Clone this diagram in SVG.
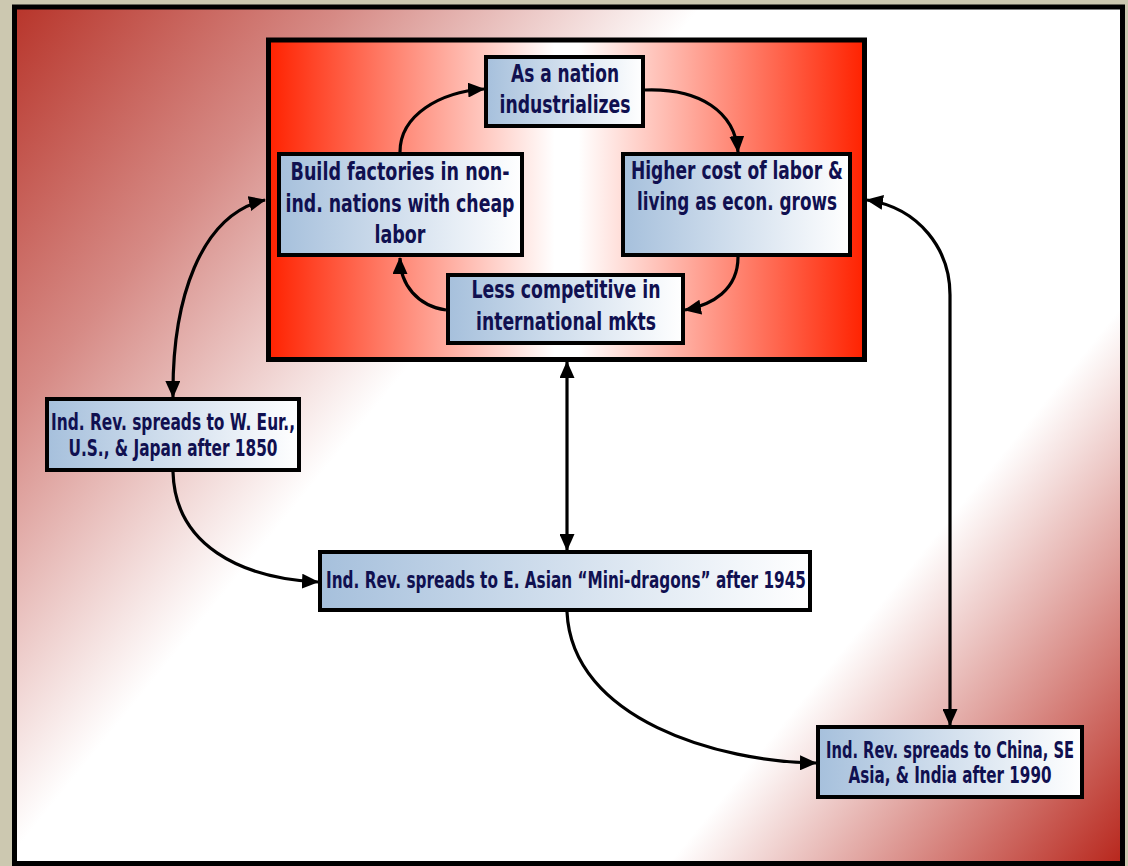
<svg xmlns="http://www.w3.org/2000/svg" width="1128" height="866" viewBox="0 0 1128 866">
  <defs>
    <linearGradient id="bgGrad" gradientUnits="userSpaceOnUse" x1="17" y1="9" x2="1098" y2="888">
      <stop offset="0" stop-color="#b8362c"/>
      <stop offset="0.18" stop-color="#d68a85"/>
      <stop offset="0.38" stop-color="#ffffff"/>
      <stop offset="0.75" stop-color="#ffffff"/>
      <stop offset="1" stop-color="#b8281e"/>
    </linearGradient>
    <linearGradient id="cycleGrad" x1="0" y1="0" x2="1" y2="0">
      <stop offset="0" stop-color="#ff2200"/>
      <stop offset="0.48" stop-color="#ffffff"/>
      <stop offset="0.52" stop-color="#ffffff"/>
      <stop offset="1" stop-color="#ff2200"/>
    </linearGradient>
    <linearGradient id="nodeGrad" x1="0" y1="0" x2="1" y2="0">
      <stop offset="0" stop-color="#a6c0dc"/>
      <stop offset="1" stop-color="#ffffff"/>
    </linearGradient>
    <marker id="arrow" markerUnits="userSpaceOnUse" markerWidth="17" markerHeight="15" viewBox="0 0 17 15" refX="16" refY="7.5" orient="auto-start-reverse">
      <path d="M0,0 L17,7.5 L0,15 Z" fill="#000"/>
    </marker>
    <style>
      .node rect { fill: url(#nodeGrad); stroke: #000; stroke-width: 4; }
      .node text { font-family: "Liberation Sans Narrow", "DejaVu Sans Condensed", "Liberation Sans", sans-serif; font-weight: bold; fill: #101050; text-anchor: middle; }
      .inner text { font-size: 24px; }
      .outer text { font-size: 23px; }
      .conn path { fill: none; stroke: #000; stroke-width: 3.2; }
    </style>
  </defs>

  <!-- page background and frame -->
  <rect x="0" y="0" width="1128" height="866" fill="#ccc8b0"/>
  <rect x="14.5" y="7" width="1108" height="856.5" fill="url(#bgGrad)" stroke="#000" stroke-width="5"/>

  <!-- industrialization cycle panel -->
  <rect id="cycle-panel" x="268.5" y="40" width="596" height="319.5" fill="url(#cycleGrad)" stroke="#000" stroke-width="5"/>

  <g class="conn">
    <path d="M645,90 C700,88 735,112 738,152" marker-end="url(#arrow)"/>
    <path d="M738,257 C738,290 712,305 685,310" marker-end="url(#arrow)"/>
    <path d="M446,310 C418,306 400,285 400,258" marker-end="url(#arrow)"/>
    <path d="M400,152 C400,115 440,92 484,89" marker-end="url(#arrow)"/>
    <path d="M173,397 C172,300 200,215 265,200" marker-start="url(#arrow)" marker-end="url(#arrow)"/>
    <path d="M867,200 C920,208 950,250 950,295 L950,725" marker-start="url(#arrow)" marker-end="url(#arrow)"/>
    <path d="M567,362 L567,550" marker-start="url(#arrow)" marker-end="url(#arrow)"/>
    <path d="M173,472 C175,545 240,578 318,582" marker-end="url(#arrow)"/>
    <path d="M567,612 C572,720 720,762 816,763" marker-end="url(#arrow)"/>
  </g>

  <g id="node-industrializes" class="node inner">
    <rect x="486" y="57" width="157" height="69"/>
    <text x="565" y="82" textLength="108" lengthAdjust="spacingAndGlyphs">As a nation</text>
    <text x="565" y="113" textLength="131" lengthAdjust="spacingAndGlyphs">industrializes</text>
  </g>

  <g id="node-labor-cost" class="node inner">
    <rect x="623" y="154" width="227" height="101"/>
    <text x="737" y="179" textLength="212" lengthAdjust="spacingAndGlyphs">Higher cost of labor &amp;</text>
    <text x="737" y="210" textLength="200" lengthAdjust="spacingAndGlyphs">living as econ. grows</text>
  </g>

  <g id="node-build-factories" class="node inner">
    <rect x="279" y="154" width="243" height="101"/>
    <text x="400" y="180" textLength="219" lengthAdjust="spacingAndGlyphs">Build factories in non-</text>
    <text x="400" y="212" textLength="229" lengthAdjust="spacingAndGlyphs">ind. nations with cheap</text>
    <text x="400" y="243" textLength="51" lengthAdjust="spacingAndGlyphs">labor</text>
  </g>

  <g id="node-less-competitive" class="node inner">
    <rect x="448" y="275" width="235" height="68"/>
    <text x="566" y="298" textLength="189" lengthAdjust="spacingAndGlyphs">Less competitive in</text>
    <text x="566" y="330" textLength="180" lengthAdjust="spacingAndGlyphs">international mkts</text>
  </g>

  <g id="node-1850" class="node outer">
    <rect x="47" y="399" width="252" height="71"/>
    <text x="173" y="430" textLength="244" lengthAdjust="spacingAndGlyphs">Ind. Rev. spreads to W. Eur.,</text>
    <text x="173" y="456" textLength="209" lengthAdjust="spacingAndGlyphs">U.S., &amp; Japan after 1850</text>
  </g>

  <g id="node-1945" class="node outer">
    <rect x="320" y="552" width="490" height="58"/>
    <text x="566" y="588" textLength="480" lengthAdjust="spacingAndGlyphs">Ind. Rev. spreads to E. Asian “Mini-dragons” after 1945</text>
  </g>

  <g id="node-1990" class="node outer">
    <rect x="818" y="727" width="264" height="70"/>
    <text x="950" y="758" textLength="248" lengthAdjust="spacingAndGlyphs">Ind. Rev. spreads to China, SE</text>
    <text x="950" y="783" textLength="203" lengthAdjust="spacingAndGlyphs">Asia, &amp; India after 1990</text>
  </g>
</svg>
